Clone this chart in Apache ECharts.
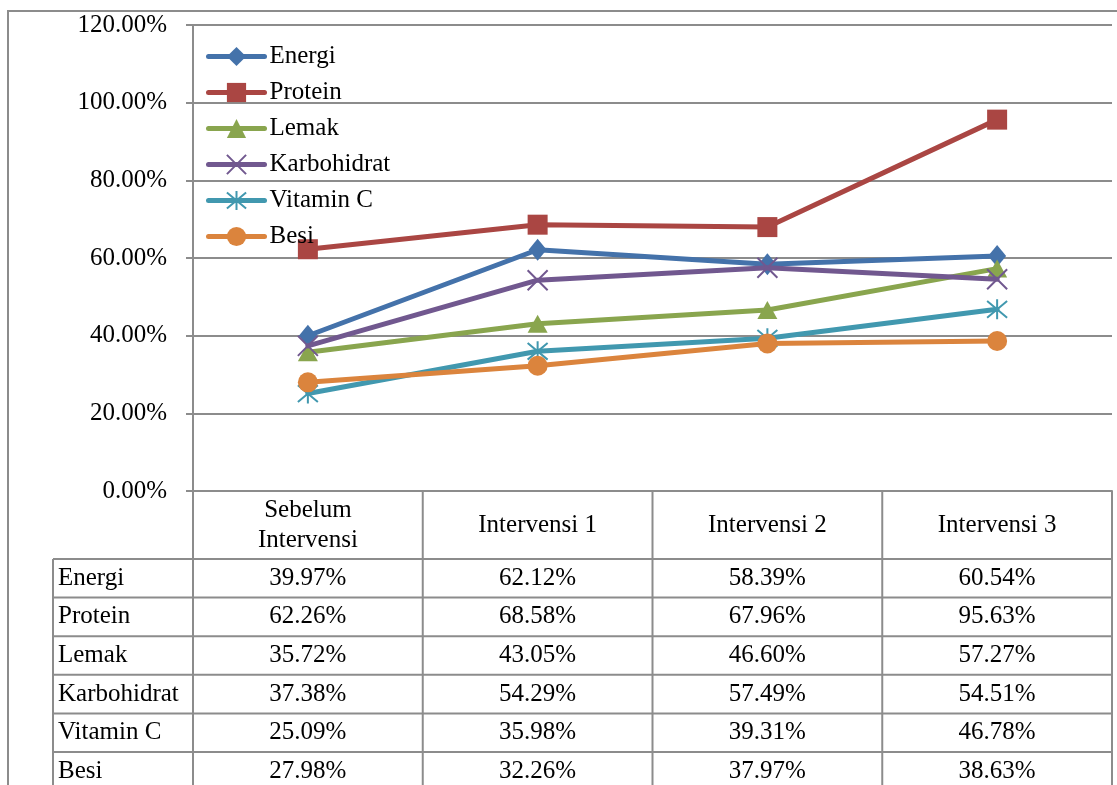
<!DOCTYPE html>
<html><head><meta charset="utf-8">
<script src="https://cdn.jsdelivr.net/npm/echarts@6/dist/echarts.min.js"></script>
<style>html,body{margin:0;padding:0;background:#fff}#c{width:1117px;height:785px}</style>
</head><body><div id="c"></div>
<script>
// ---- data ----
const categories = ['Sebelum\nIntervensi', 'Intervensi 1', 'Intervensi 2', 'Intervensi 3'];
const seriesNames = ['Energi', 'Protein', 'Lemak', 'Karbohidrat', 'Vitamin C', 'Besi'];
const energi      = [0.3997, 0.6212, 0.5839, 0.6054];
const protein     = [0.6226, 0.6858, 0.6796, 0.9563];
const lemak       = [0.3572, 0.4305, 0.4660, 0.5727];
const karbohidrat = [0.3738, 0.5429, 0.5749, 0.5451];
const vitaminC    = [0.2509, 0.3598, 0.3931, 0.4678];
const besi        = [0.2798, 0.3226, 0.3797, 0.3863];
const yMin = 0, yMax = 1.2, yInterval = 0.2;

// ---- styling ----
const FONT = "'Liberation Serif','Times New Roman',serif";
const FS = 25;
const GRAY = '#8c8c8c';
const colors = ['#4472AA', '#AA4643', '#89A54E', '#71588F', '#4198AF', '#DB843D'];
const symbols = ['diamond', 'rect', 'triangle', 'path://M0,0L10,10M10,0L0,10', 'path://M0,0L10,10M10,0L0,10M5,-1L5,11', 'circle'];
const symSizes = [[18, 22], 20, [20, 18], 20, 20, 20];
const allData = [energi, protein, lemak, karbohidrat, vitaminC, besi];

const G = { left: 193, right: 5, top: 25, bottom: 294 };
const fmt = v => (v * 100).toFixed(2) + '%';

const chart = echarts.init(document.getElementById('c'), null, { renderer: 'canvas' });

const series = seriesNames.map((name, i) => {
  const isPath = symbols[i].startsWith('path://');
  return {
    name, type: 'line', data: allData[i],
    symbol: symbols[i], symbolSize: symSizes[i],
    lineStyle: { width: 5, color: colors[i], cap: 'round', join: 'round' },
    itemStyle: isPath ? { color: colors[i], borderColor: colors[i], borderWidth: 2 } : { color: colors[i] },
    emphasis: { disabled: true },
    animation: false,
    z: 2 + i
  };
});

const option = {
  animation: false,
  textStyle: { fontFamily: FONT },
  grid: G,
  legend: {
    left: 201, top: 39, orient: 'vertical',
    itemWidth: 56, itemHeight: 24, itemGap: 11,
    lineStyle: { width: 5 },
    textStyle: { fontFamily: FONT, fontSize: FS, color: '#000' },
    data: seriesNames
  },
  xAxis: {
    type: 'category', data: categories, boundaryGap: true,
    axisLine: { show: true, lineStyle: { color: GRAY, width: 2 } },
    axisTick: { show: false },
    axisLabel: { fontFamily: FONT, fontSize: FS, color: '#000', lineHeight: 30, margin: 34, verticalAlign: 'middle', interval: 0 },
    splitLine: { show: false }
  },
  yAxis: {
    type: 'value', min: yMin, max: yMax, interval: yInterval,
    axisLine: { show: true, lineStyle: { color: GRAY, width: 2 } },
    axisTick: { show: true, length: 7, lineStyle: { color: GRAY, width: 2 } },
    axisLabel: { fontFamily: FONT, fontSize: FS, color: '#000', margin: 26, formatter: v => fmt(v) },
    splitLine: { show: true, lineStyle: { color: GRAY, width: 2 } }
  },
  series
};
chart.setOption(option);

// ---- data table below the axis ----
const W = 1117 - G.left - G.right;
const colW = W / categories.length;
const bounds = [];
for (let k = 0; k <= categories.length; k++) bounds.push(G.left + k * colW);
const axisY = 785 - G.bottom;
const headerBottom = 559;
const rowH = 38.6;
const labelLeft = 53;
const graphics = [];
const line = (x1, y1, x2, y2) => graphics.push({ type: 'line', shape: { x1, y1, x2, y2 }, style: { stroke: GRAY, lineWidth: 2 }, silent: true, z: 1 });

// outer chart border
graphics.push({ type: 'rect', shape: { x: 8, y: 11, width: 2000, height: 2000 }, style: { fill: 'none', stroke: GRAY, lineWidth: 2 }, silent: true, z: 0 });

for (let r = 0; r <= seriesNames.length; r++) line(labelLeft, headerBottom + r * rowH, bounds[bounds.length - 1], headerBottom + r * rowH);
line(labelLeft, headerBottom, labelLeft, 800);
bounds.forEach(x => line(x, axisY, x, 800));

seriesNames.forEach((name, r) => {
  const cy = headerBottom + r * rowH + rowH / 2;
  graphics.push({ type: 'text', x: labelLeft + 5, y: cy, style: { text: name, font: FS + 'px ' + FONT, fill: '#000', textAlign: 'left', textVerticalAlign: 'middle' }, silent: true, z: 3 });
  allData[r].forEach((v, c) => {
    const cx = chart.convertToPixel({ xAxisIndex: 0 }, c);
    graphics.push({ type: 'text', x: cx, y: cy, style: { text: fmt(v), font: FS + 'px ' + FONT, fill: '#000', textAlign: 'center', textVerticalAlign: 'middle' }, silent: true, z: 3 });
  });
});
chart.setOption({ graphic: graphics });
</script>
</body></html>
